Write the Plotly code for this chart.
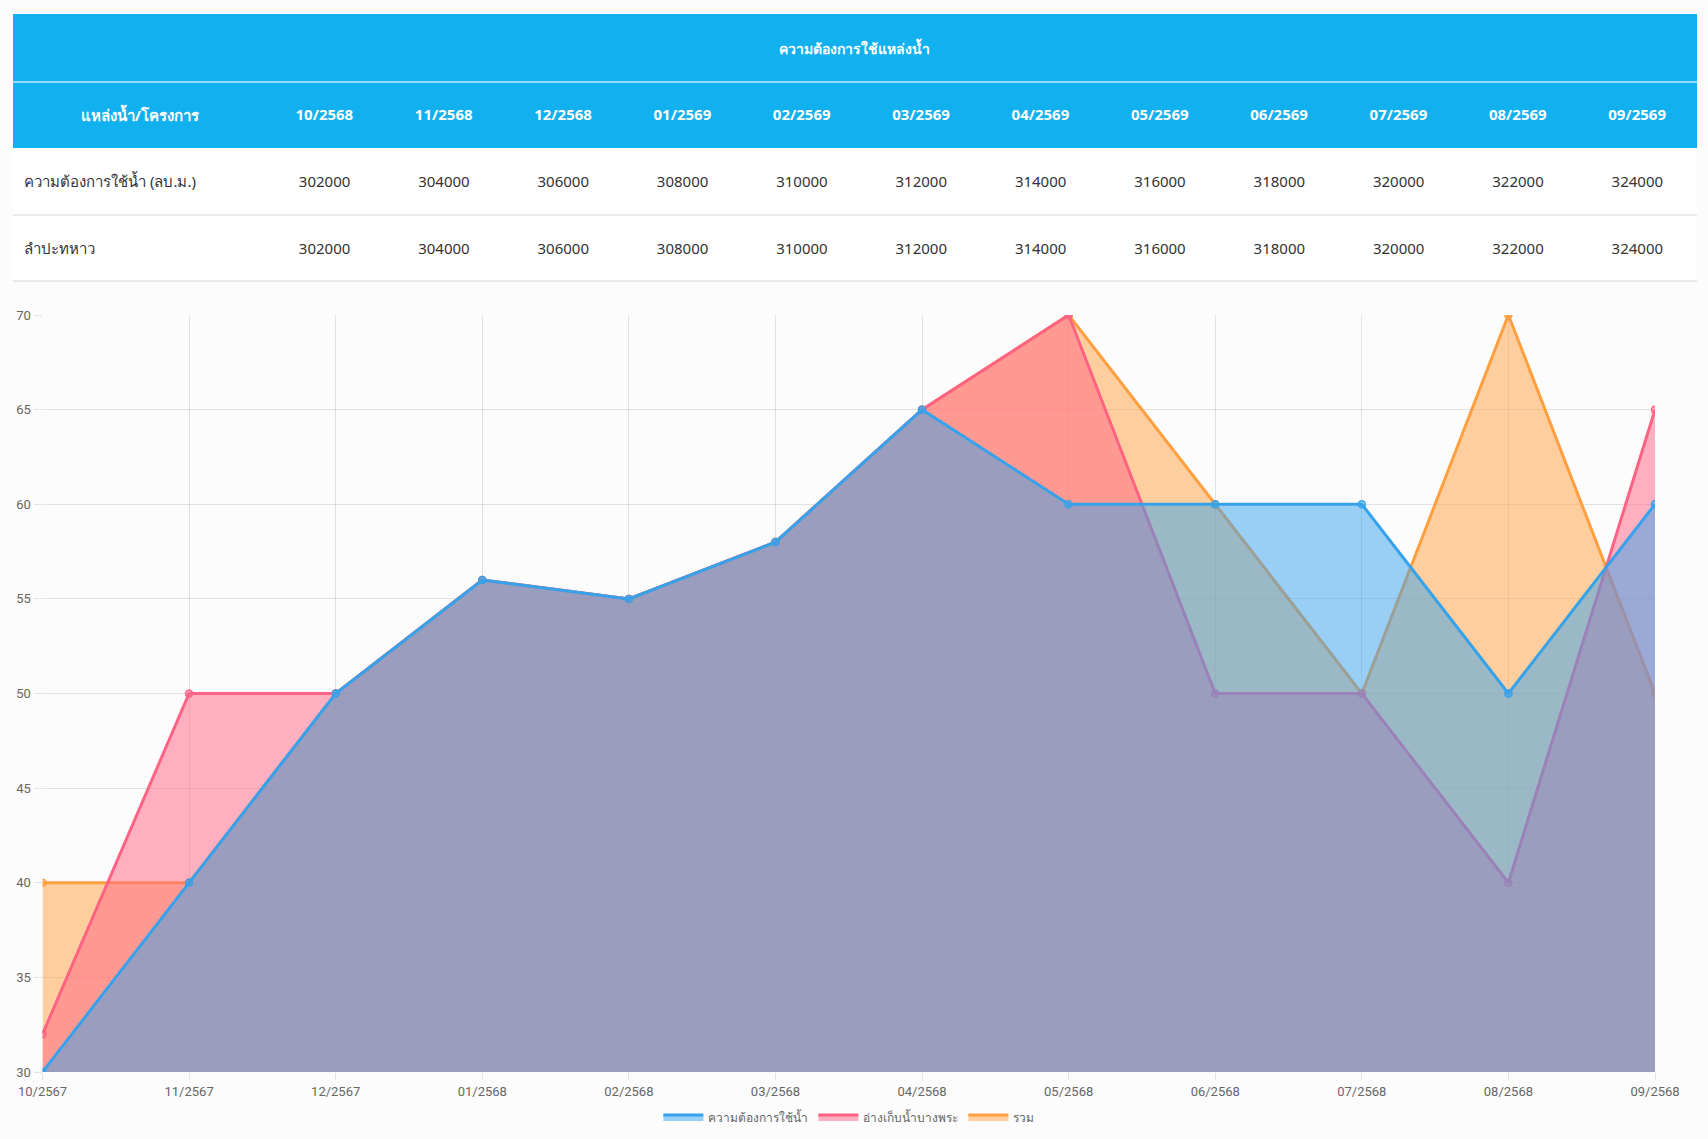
import plotly.graph_objects as go

W, H = 1708, 1139

# ---- data ----
table_title = "ความต้องการใช้แหล่งน้ำ"
table_first_header = "แหล่งน้ำ/โครงการ"
table_months = ["10/2568", "11/2568", "12/2568", "01/2569", "02/2569", "03/2569",
                "04/2569", "05/2569", "06/2569", "07/2569", "08/2569", "09/2569"]
row_labels = ["ความต้องการใช้น้ำ (ลบ.ม.)", "ลำปะทหาว"]
row_demand = [302000, 304000, 306000, 308000, 310000, 312000,
              314000, 316000, 318000, 320000, 322000, 324000]
row_lampatao = [302000, 304000, 306000, 308000, 310000, 312000,
                314000, 316000, 318000, 320000, 322000, 324000]

chart_months = ["10/2567", "11/2567", "12/2567", "01/2568", "02/2568", "03/2568",
                "04/2568", "05/2568", "06/2568", "07/2568", "08/2568", "09/2568"]
series_names = ["ความต้องการใช้น้ำ", "อ่างเก็บน้ำบางพระ", "รวม"]
demand = [30, 40, 50, 56, 55, 58, 65, 60, 60, 60, 50, 60]
bangphra = [32, 50, 50, 56, 55, 58, 65, 70, 50, 50, 40, 65]
total = [40, 40, 50, 56, 55, 58, 65, 70, 60, 50, 70, 50]

colors = [(54, 162, 235), (255, 99, 132), (255, 159, 64)]

HEADER_BLUE = "#11b0ee"
BG = "#fcfcfc"
THAI_FONT = "Noto Sans, Tahoma, sans-serif"
TICK_FONT = dict(family="Roboto, Arial, sans-serif", size=13, color="#666666")

# table geometry (px)
T_LEFT, T_RIGHT = 13, 1697
T_TOP, T_HEAD, T_ROW1, T_ROW2, T_BOTTOM = 14, 82, 148, 215, 281
TEXT_SHIFT = 14   # table text is top-aligned; shift the table so text sits mid-row
CELL_SHIFT = 6    # extra shift of body text relative to header text
LEFT_PAD = 3      # extra left padding for row labels


def px_x(x):
    return x / W


def px_y(y):
    return 1 - y / H


fig = go.Figure()

# ---- table ----
col_widths = [252 - LEFT_PAD] + [119.4] * len(table_months)
header_vals = ["<b>%s</b>" % table_first_header] + ["<b>%s</b>" % m for m in table_months]
cell_vals = [row_labels] + [[str(a), str(b)] for a, b in zip(row_demand, row_lampatao)]

fig.add_trace(go.Table(
    domain=dict(x=[px_x(T_LEFT + LEFT_PAD), px_x(T_RIGHT)],
                y=[px_y(T_BOTTOM + TEXT_SHIFT + CELL_SHIFT + 25), px_y(T_HEAD + TEXT_SHIFT)]),
    columnwidth=col_widths,
    header=dict(values=header_vals, fill_color="rgba(0,0,0,0)",
                line_color="rgba(0,0,0,0)", align="center", height=66 + CELL_SHIFT,
                font=dict(family=THAI_FONT, size=15, color="white")),
    cells=dict(values=cell_vals, fill_color="rgba(0,0,0,0)", line_color="rgba(0,0,0,0)",
               align=["left"] + ["center"] * len(table_months), height=67,
               font=dict(family=THAI_FONT, size=15, color="#333333")),
))

# ---- chart ----
for name, vals, c in reversed(list(zip(series_names, [demand, bangphra, total], colors))):
    solid = "rgb(%d,%d,%d)" % c
    half = "rgba(%d,%d,%d,0.5)" % c
    fig.add_trace(go.Scatter(
        x=chart_months, y=vals, name=name, mode="lines+markers",
        fill="tozeroy", fillcolor=half, showlegend=False,
        line=dict(color=solid, width=3),
        marker=dict(size=7, color=half, line=dict(color=solid, width=1.5)),
        xaxis="x", yaxis="y",
    ))

# legend boxes (Chart.js-style filled rectangles)
for name, c in zip(series_names, colors):
    fig.add_trace(go.Scatter(
        x=[None], y=[None], name=name, mode="lines", fill="toself",
        fillcolor="rgba(%d,%d,%d,0.5)" % c,
        line=dict(color="rgb(%d,%d,%d)" % c, width=3),
        xaxis="x", yaxis="y",
    ))


def hline(y, color, width=1.5):
    return dict(type="line", xref="paper", yref="paper", x0=px_x(T_LEFT), x1=px_x(T_RIGHT),
                y0=px_y(y), y1=px_y(y), line=dict(color=color, width=width))


shapes = [
    dict(type="rect", xref="paper", yref="paper", x0=px_x(T_LEFT), x1=px_x(T_RIGHT),
         y0=px_y(T_ROW1), y1=px_y(T_TOP), fillcolor=HEADER_BLUE, line=dict(width=0),
         layer="below"),
    dict(type="rect", xref="paper", yref="paper", x0=px_x(T_LEFT), x1=px_x(T_RIGHT),
         y0=px_y(T_BOTTOM), y1=px_y(T_ROW1), fillcolor="white", line=dict(width=0),
         layer="below"),
    hline(T_HEAD, "rgba(255,255,255,0.75)"),
    hline(T_ROW2, "#e3e3e3"),
    hline(T_BOTTOM, "#e3e3e3"),
]

fig.update_layout(
    width=W, height=H, margin=dict(l=0, r=0, t=0, b=0, autoexpand=False),
    paper_bgcolor=BG, plot_bgcolor=BG,
    font=dict(family="Roboto, Arial, sans-serif", size=13, color="#666666"),
    shapes=shapes,
    annotations=[dict(text="<b>%s</b>" % table_title, xref="paper", yref="paper",
                      x=px_x(855), y=px_y((T_TOP + T_HEAD) / 2), showarrow=False,
                      xanchor="center", yanchor="middle",
                      font=dict(family=THAI_FONT, size=14, color="white"))],
    xaxis=dict(type="category", categoryorder="array", categoryarray=chart_months,
               range=[0, len(chart_months) - 1], automargin=False,
               domain=[px_x(42.5), px_x(1655)], anchor="y",
               showgrid=True, gridcolor="rgba(0,0,0,0.1)", gridwidth=1,
               ticks="outside", ticklen=7, tickcolor="rgba(0,0,0,0.1)",
               showline=False, zeroline=False, tickfont=TICK_FONT),
    yaxis=dict(range=[30, 70], dtick=5, domain=[px_y(1072), px_y(315)], anchor="x",
               automargin=False,
               showgrid=True, gridcolor="rgba(0,0,0,0.1)", gridwidth=1,
               ticks="outside", ticklen=8, tickcolor="rgba(0,0,0,0.1)",
               showline=False, zeroline=False, tickfont=TICK_FONT),
    legend=dict(orientation="h", x=0.497, xanchor="center", y=px_y(1117),
                yanchor="middle", font=dict(family=THAI_FONT, size=12, color="#666666"),
                bgcolor="rgba(0,0,0,0)", itemwidth=40),
    showlegend=True,
)

fig.write_html("out.html", config={"displayModeBar": False})
with open("out.html", "r", encoding="utf-8") as f:
    html = f.read()
html = html.replace("<body>", '<body style="margin:0;padding:0;overflow:hidden">', 1)
with open("out.html", "w", encoding="utf-8") as f:
    f.write(html)
